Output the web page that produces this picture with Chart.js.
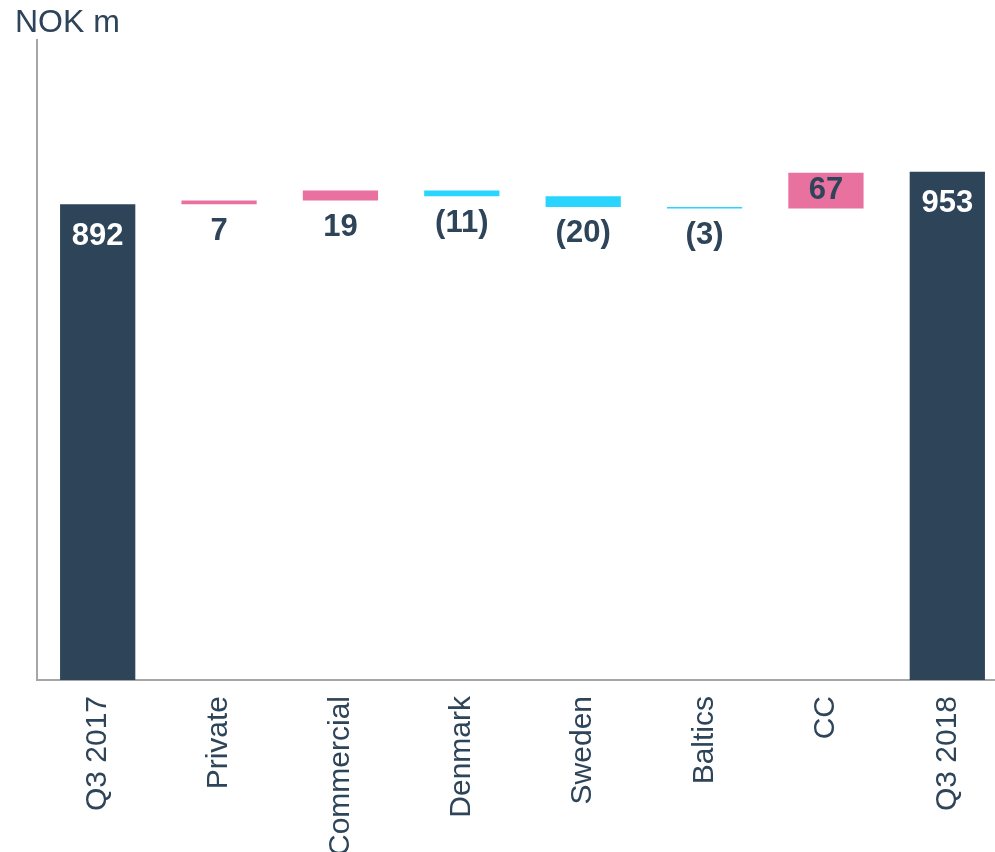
<!DOCTYPE html>
<html>
<head>
<meta charset="utf-8">
<script src="https://cdn.jsdelivr.net/npm/chart.js@4"></script>
<style>
  html, body { margin: 0; padding: 0; background: #fff; overflow: hidden; }
  #wrap { width: 1010px; height: 852px; }
</style>
</head>
<body>
<div id="wrap"><canvas id="grafica_waterfall" width="1010" height="852"></canvas></div>
<script>
const categorias = ["Q3 2017", "Private", "Commercial", "Denmark", "Sweden", "Baltics", "CC", "Q3 2018"];
const valorInicial = 892;
const variaciones = [7, 19, -11, -20, -3, 67];
const valorFinal = 953;
const etiquetas = ["892", "7", "19", "(11)", "(20)", "(3)", "67", "953"];

const colorTotal = "#2D4459";
const colorSube = "#E9719F";
const colorBaja = "#29D5FF";
const colorTexto = "#2D4459";

// barras flotantes [desde, hasta]
let barras = [[0, valorInicial]];
let colores = [colorTotal];
let acumulado = valorInicial;
variaciones.forEach(v => {
  barras.push([acumulado, acumulado + v]);
  colores.push(v >= 0 ? colorSube : colorBaja);
  acumulado += v;
});
barras.push([0, valorFinal]);
colores.push(colorTotal);

const pluginEtiquetas = {
  id: 'etiquetas',
  afterDatasetsDraw(chart) {
    const ctx = chart.ctx;
    const meta = chart.getDatasetMeta(0);
    ctx.save();
    ctx.font = "bold 31px 'Liberation Sans', Arial, sans-serif";
    ctx.textAlign = 'center';
    ctx.textBaseline = 'middle';
    meta.data.forEach((bar, i) => {
      const top = Math.min(bar.y, bar.base);
      const bottom = Math.max(bar.y, bar.base);
      const alto = bottom - top;
      let y;
      if (i === 0 || i === meta.data.length - 1) {
        ctx.fillStyle = '#FFFFFF';
        y = top + 32;
      } else if (alto > 30) {
        ctx.fillStyle = colorTexto;
        y = (top + bottom) / 2;
      } else {
        ctx.fillStyle = colorTexto;
        y = bottom + 27;
      }
      ctx.fillText(etiquetas[i], bar.x, y);
    });
    // unidad
    ctx.font = "32px 'Liberation Sans', Arial, sans-serif";
    ctx.textAlign = 'left';
    ctx.textBaseline = 'alphabetic';
    ctx.fillStyle = colorTexto;
    ctx.fillText("NOK m", 15, 32);
    ctx.restore();
  }
};

const ctx = document.getElementById("grafica_waterfall").getContext("2d");
new Chart(ctx, {
  type: 'bar',
  data: {
    labels: categorias,
    datasets: [{
      data: barras,
      backgroundColor: colores,
      borderWidth: 0,
      categoryPercentage: 1,
      barPercentage: 0.62
    }]
  },
  options: {
    responsive: false,
    animation: false,
    layout: { padding: { top: 40, right: 2, left: 0, bottom: 0 } },
    plugins: {
      legend: { display: false },
      tooltip: { enabled: false }
    },
    scales: {
      x: {
        grid: { display: false, drawTicks: false },
        border: { color: '#A6A6A6', width: 2 },
        ticks: {
          color: colorTexto,
          font: { family: "'Liberation Sans', Arial, sans-serif", size: 30 },
          minRotation: 90,
          maxRotation: 90,
          padding: 16,
          autoSkip: false
        },
        afterFit: s => { s.height = 172; }
      },
      y: {
        min: 0,
        max: 1200,
        grid: { display: false, drawTicks: false },
        border: { color: '#A6A6A6', width: 2 },
        ticks: { display: false },
        afterFit: s => { s.width = 37; }
      }
    }
  },
  plugins: [pluginEtiquetas]
});
</script>
</body>
</html>
